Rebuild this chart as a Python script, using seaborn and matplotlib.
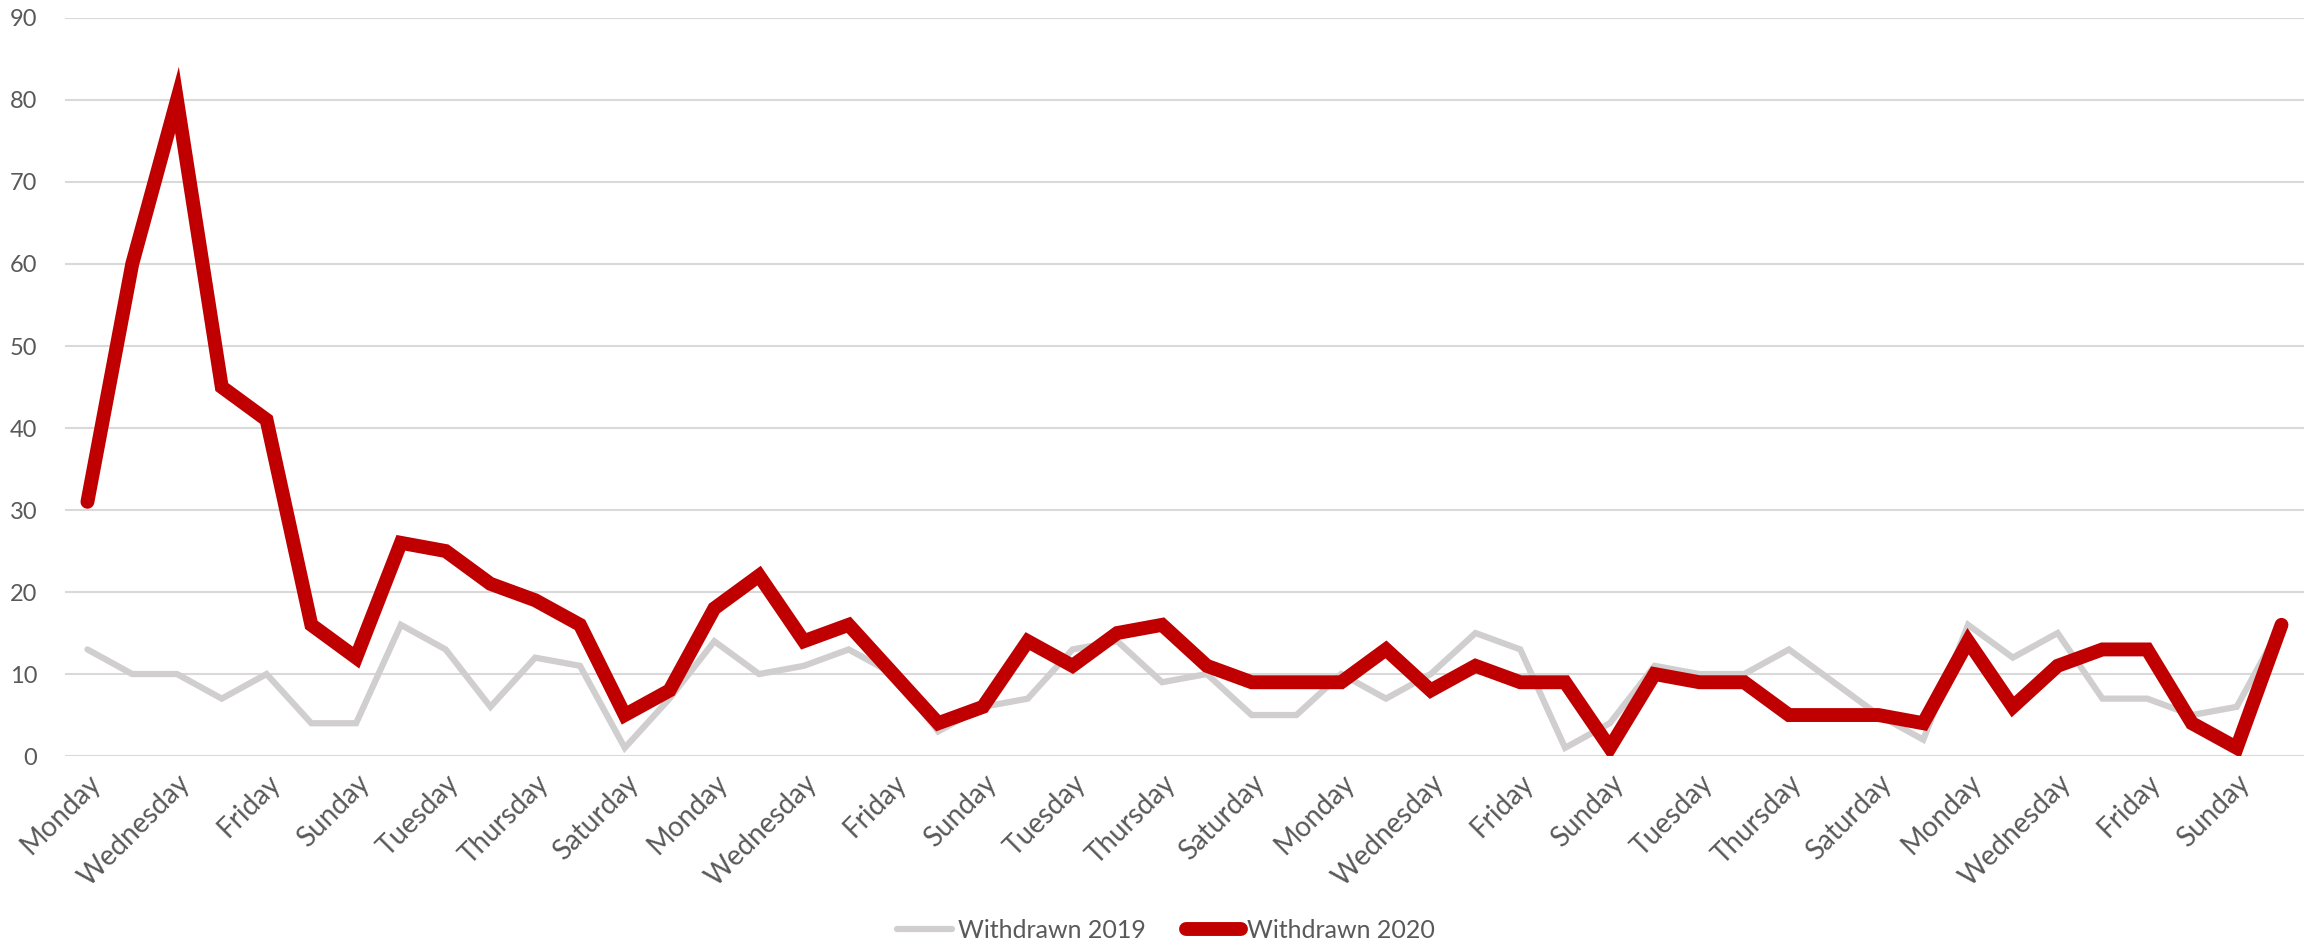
import pandas as pd
import matplotlib
matplotlib.use("Agg")
import matplotlib.pyplot as plt
import seaborn as sns

# day names repeat over the 50 days, only every other one is labelled
week = ['Monday', 'Tuesday', 'Wednesday', 'Thursday', 'Friday', 'Saturday', 'Sunday']
days = [week[i % 7] for i in range(50)]

withdrawn_2019 = [13, 10, 10, 7, 10, 4, 4, 16, 13, 6,
                  12, 11, 1, 7, 14, 10, 11, 13, 10, 3,
                  6, 7, 13, 14, 9, 10, 5, 5, 10, 7,
                  10, 15, 13, 1, 4, 11, 10, 10, 13, 9,
                  5, 2, 16, 12, 15, 7, 7, 5, 6, 16]
withdrawn_2020 = [31, 60, 80, 45, 41, 16, 12, 26, 25, 21,
                  19, 16, 5, 8, 18, 22, 14, 16, 10, 4,
                  6, 14, 11, 15, 16, 11, 9, 9, 9, 13,
                  8, 11, 9, 9, 1, 10, 9, 9, 5, 5,
                  5, 4, 14, 6, 11, 13, 13, 4, 1, 16]

df = pd.DataFrame({'day': range(len(days)),
                   'Withdrawn 2019': withdrawn_2019,
                   'Withdrawn 2020': withdrawn_2020})

sns.set_theme(style="white")
plt.rcParams['font.family'] = ['Lato', 'DejaVu Sans']

fig = plt.figure(figsize=(23.15, 9.46), dpi=100)
ax = fig.add_axes([0.0281, 0.2008, 0.9671, 0.7802])

sns.lineplot(data=df, x='day', y='Withdrawn 2019', ax=ax, color='#D0CECE',
             linewidth=4.5, label='Withdrawn 2019', solid_capstyle='round',
             solid_joinstyle='miter')
sns.lineplot(data=df, x='day', y='Withdrawn 2020', ax=ax, color='#C00000',
             linewidth=10, label='Withdrawn 2020', solid_capstyle='round',
             solid_joinstyle='miter')

ax.set_xlim(-0.5, len(days) - 0.5)
ax.set_ylim(0, 90)
ax.set_yticks(range(0, 91, 10))
ax.set_xticks(range(0, len(days), 2))
ax.set_xticklabels(days[::2], rotation=45, ha='right', rotation_mode='anchor',
                   fontsize=20, color='#595959')
ax.tick_params(axis='both', labelcolor='#595959', length=0)
ax.tick_params(axis='y', labelsize=17, pad=20)
ax.tick_params(axis='x', pad=10)
ax.set_xlabel('')
ax.set_ylabel('')
ax.yaxis.grid(True, color='#D9D9D9', linewidth=1.5)
ax.set_axisbelow(True)
for s in ax.spines.values():
    s.set_visible(False)

ax.legend_.remove()
handles, labels = ax.get_legend_handles_labels()
fig.legend(handles, labels, loc='center', bbox_to_anchor=(1166 / 2315, 1 - 930 / 946),
           ncol=2, frameon=False, fontsize=18, labelcolor='#595959',
           handlelength=2.2, handletextpad=0.25, columnspacing=1.6)

fig.savefig('out.png', dpi=100)
